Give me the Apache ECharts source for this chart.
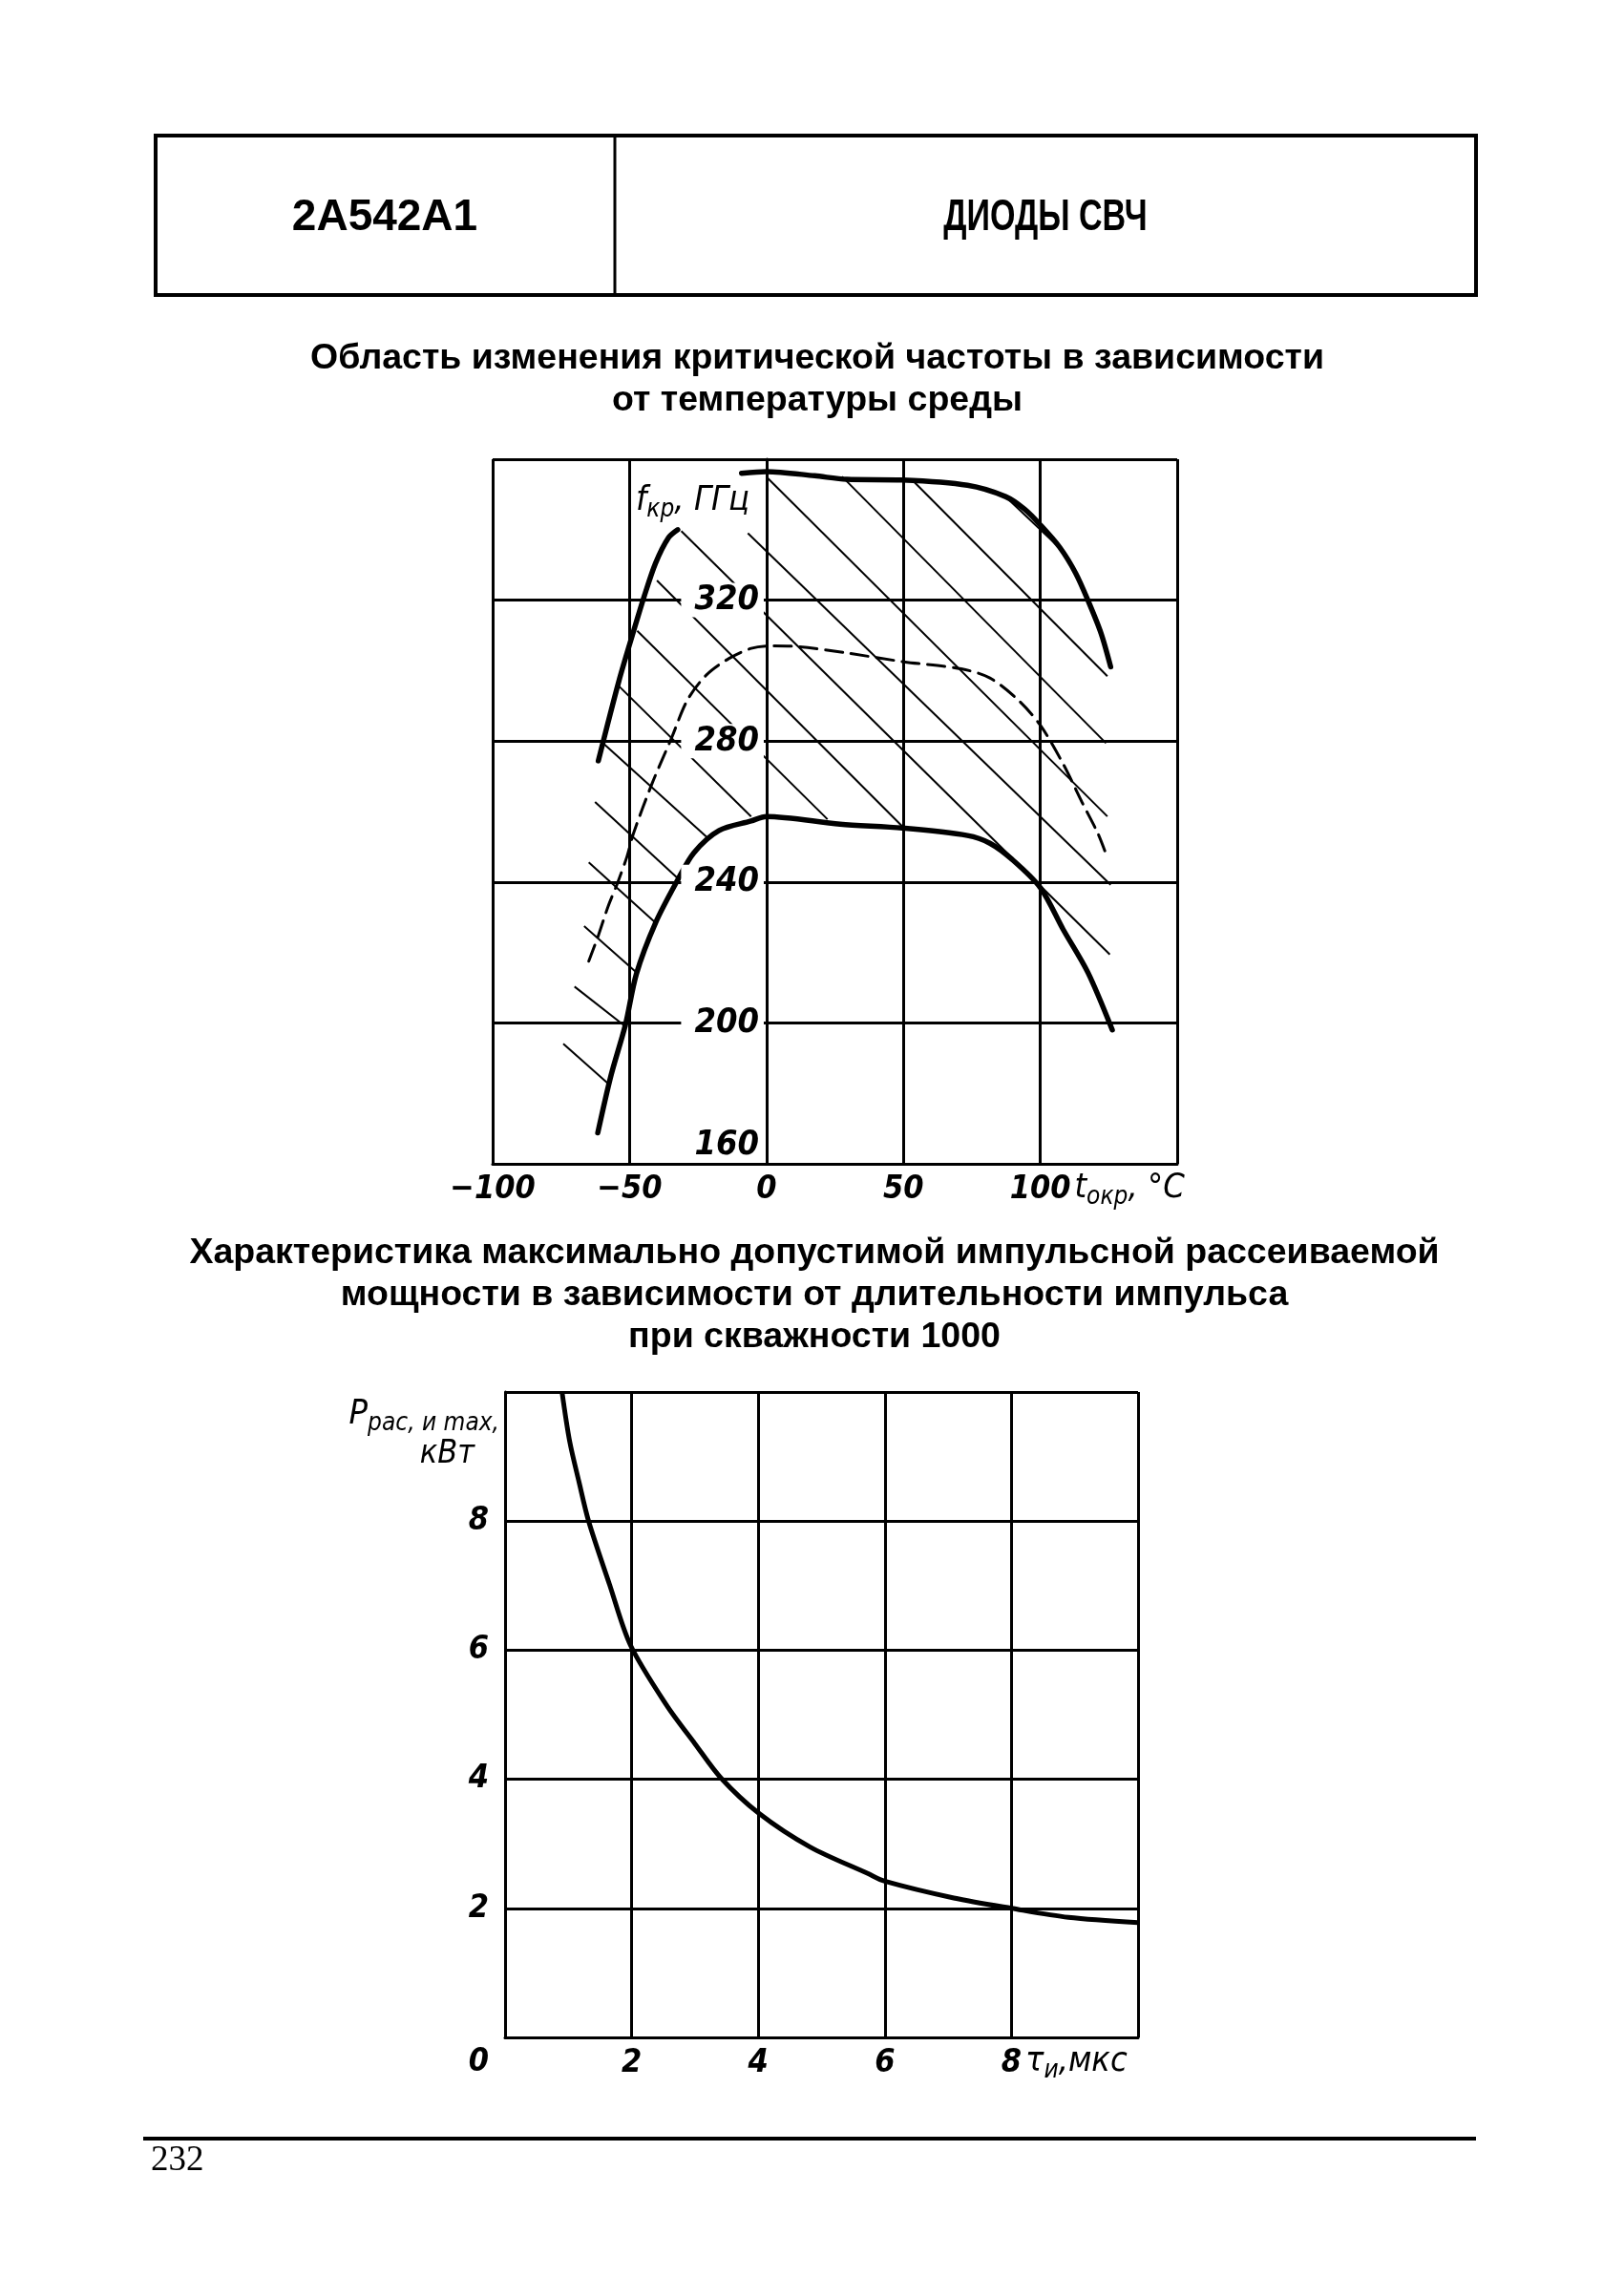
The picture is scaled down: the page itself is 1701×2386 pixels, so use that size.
<!DOCTYPE html>
<html>
<head>
<meta charset="utf-8">
<script src="https://cdn.jsdelivr.net/npm/echarts@6/dist/echarts.min.js"></script>
<style>
html,body{margin:0;padding:0;background:#fff;}
#c{width:1701px;height:2386px;}
</style>
</head>
<body>
<div id="c"></div>
<script>
// ---------- Chart 1: critical frequency vs ambient temperature ----------
const tempMin = -100, tempMax = 150, tempStep = 50;      // t_окр, °C
const freqMin = 160, freqMax = 360, freqStep = 40;       // f_кр, ГГц

// upper boundary (thick)
const upperLimit = [[-9.1,356.0],[0,356.5],[17.6,355.3],[29.3,354.3],[49.6,354.1],[73.4,352.6],
  [87.3,349.4],[94.3,345.8],[100.1,341.3],[107.1,335.0],[112.9,327.7],[117.6,319.6],[122.2,310.6],[125.7,301.1]];
// upper-left boundary (thick)
const upperLeftLimit = [[-61.4,274.4],[-53.9,297.0],[-48.6,311.0],[-44.6,321.2],[-40.5,330.5],[-35.8,337.7],[-32.4,340.0]];
// lower boundary (thick)
const lowerLimit = [[-61.6,168.8],[-56.8,185.0],[-51.5,199.5],[-47.5,213.9],[-40.5,228.4],[-32.4,240.6],
  [-26.5,248.3],[-17.3,254.6],[-5.6,257.3],[0,258.6],[26.9,256.4],[49.6,255.3],[73.4,253.2],[81.6,251.0],
  [89.7,246.4],[100.1,238.3],[108.3,226.6],[117.4,214.3],[126.3,198.0]];
// typical curve (dashed)
const typicalFreq = [[-64.9,217.5],[-61.4,224.8],[-57.9,232.9],[-54.4,239.7],[-50.9,247.3],[-48.6,253.7],
  [-41.7,268.1],[-34.7,280.8],[-28.9,291.6],[-21.9,298.8],[-13.8,303.4],[-5.6,306.3],[1.3,307.0],[11.8,306.8],
  [29.3,305.0],[50.2,302.5],[71.1,300.5],[81.6,297.9],[92.0,291.6],[100.1,284.4],[108.3,273.6],[115.2,262.7],
  [121.1,253.7],[124.5,246.9]];
// hatching of the region (segment end points)
const hatchLines = [
  [[86.5,350.0],[107.5,334.5]],
  [[54.0,353.5],[124.5,298.4]],
  [[27.6,355.1],[124.0,279.4]],
  [[0,355.0],[124.5,258.6]],
  [[-6.8,339.0],[125.7,239.2]],
  [[-31.1,339.6],[125.4,219.4]],
  [[-40.0,325.6],[49.6,255.8]],
  [[-47.2,311.3],[22.3,257.8]],
  [[-53.9,295.6],[-5.6,258.6]],
  [[-60.5,280.0],[-21.9,252.8]],
  [[-62.6,262.7],[-31.8,240.6]],
  [[-64.9,245.6],[-40.5,228.4]],
  [[-66.6,227.5],[-46.9,213.9]],
  [[-70.1,210.3],[-50.9,198.6]],
  [[-74.2,194.1],[-57.9,182.8]]
];

// ---------- Chart 2: max pulse power vs pulse width ----------
const widthMin = 0, widthMax = 10, widthStep = 2;        // τ_и, мкс
const powerMin = 0, powerMax = 10, powerStep = 2;        // P, кВт
const pulseWidth = [0.9,1.02,1.17,1.32,1.65,1.98,2.55,3.0,3.41,4.0,4.82,5.73,6.0,7.09,8.0,8.9,10];
const pulsePower = [10,9.24,8.6,8.0,7.02,6.08,5.15,4.55,4.02,3.48,2.95,2.54,2.42,2.16,2.0,1.86,1.78];

// ---------- texts ----------
const headerLeft = '2А542А1';
const headerRight = 'ДИОДЫ СВЧ';
const title1 = 'Область изменения критической частоты в зависимости\nот температуры среды';
const title2 = 'Характеристика максимально допустимой импульсной рассеиваемой\nмощности в зависимости от длительности импульса\nпри скважности 1000';
const pageNumber = '232';

const NARROW = "'Liberation Sans Narrow','DejaVu Sans Condensed','Liberation Sans',sans-serif";
const SANS = "'Liberation Sans',Arial,sans-serif";
const BLACK = '#000';

const chart = echarts.init(document.getElementById('c'), null, {renderer:'canvas', width:1701, height:2386});

function lbl(size, bold){ return {color:BLACK, fontSize:size, fontStyle:'italic', fontWeight: bold ? 'bold' : 'normal', fontFamily:NARROW}; }
const richBase = {
  t: Object.assign(lbl(36), {lineHeight:44}),
  s: Object.assign(lbl(26), {lineHeight:26, verticalAlign:'bottom'}),
  k: Object.assign(lbl(34), {lineHeight:38, padding:[0,26,0,0]})
};

function curve(data, width, dashed){
  return {type:'line', xAxisIndex:0, yAxisIndex:0, data:data, symbol:'none', smooth:0.3,
    silent:true, z:3,
    lineStyle:{color:BLACK, width:width, type: dashed ? [18,9] : 'solid', cap:'round'}};
}

const series = [];
hatchLines.forEach(function(seg){
  series.push({type:'line', xAxisIndex:0, yAxisIndex:0, data:seg, symbol:'none', silent:true, z:2,
    lineStyle:{color:BLACK, width:2}});
});
series.push(curve(upperLimit, 5.5, false));
series.push(curve(upperLeftLimit, 5.5, false));
series.push(curve(lowerLimit, 5.5, false));
series.push(curve(typicalFreq, 3, true));
series.push({type:'line', xAxisIndex:1, yAxisIndex:1, symbol:'none', smooth:0.3, silent:true,
  data: pulseWidth.map(function(x,i){ return [x, pulsePower[i]]; }),
  lineStyle:{color:BLACK, width:5}});

const gridLine = {show:true, lineStyle:{color:BLACK, width:3}};

const option = {
  backgroundColor:'#fff',
  animation:false,
  grid:[
    {left:516, top:481, width:717, height:738},
    {left:529, top:1458, width:663, height:676}
  ],
  xAxis:[
    {gridIndex:0, type:'value', min:tempMin, max:tempMax, interval:tempStep, z:6,
     axisLine:{show:true, onZero:false, lineStyle:{color:BLACK, width:3}},
     axisTick:{show:false}, splitLine:gridLine,
     axisLabel:Object.assign(lbl(34, true), {margin:10, showMaxLabel:false,
       formatter:function(v){ return v < 0 ? '\u2212' + (-v) : String(v); }}),
     name:'{t|t}{s|окр}{t|, °C}', nameLocation:'end', nameGap:0,
     nameTextStyle:{align:'right', verticalAlign:'top', padding:[4,0,0,0], rich:richBase}},
    {gridIndex:1, type:'value', min:widthMin, max:widthMax, interval:widthStep, z:6,
     axisLine:{show:true, onZero:false, lineStyle:{color:BLACK, width:3}},
     axisTick:{show:false}, splitLine:gridLine,
     axisLabel:Object.assign(lbl(34, true), {margin:10, showMinLabel:false, showMaxLabel:false}),
     name:'{t|τ}{s|и}{t|,мкс}', nameLocation:'end', nameGap:0,
     nameTextStyle:{align:'right', verticalAlign:'top', padding:[4,12,0,0], rich:richBase}}
  ],
  yAxis:[
    {gridIndex:0, type:'value', min:freqMin, max:freqMax, interval:freqStep, z:5,
     position:'left', offset:-287,
     axisLine:{show:true, onZero:false, lineStyle:{color:BLACK, width:3}},
     axisTick:{show:false}, splitLine:gridLine,
     axisLabel:Object.assign(lbl(36, true), {margin:3, showMaxLabel:false, backgroundColor:'#fff', padding:[0,5,0,14],
       formatter:function(v){ return v === freqMin ? '{lo|' + v + '}' : String(v); },
       rich:{lo:Object.assign(lbl(36, true), {padding:[0,0,38,0]})}}),
     name:'{t|f}{s|кр}{t|, ГГц}', nameLocation:'end', nameGap:-44,
     nameTextStyle:{align:'right', verticalAlign:'middle', padding:[0,18,0,0], rich:richBase}},
    {gridIndex:1, type:'value', min:powerMin, max:powerMax, interval:powerStep, z:5,
     axisLine:{show:true, onZero:false, lineStyle:{color:BLACK, width:3}},
     axisTick:{show:false}, splitLine:gridLine,
     axisLabel:Object.assign(lbl(34, true), {margin:17, showMaxLabel:false,
       formatter:function(v){ return v === 0 ? '{z|0}' : String(v); },
       rich:{z:Object.assign(lbl(34, true), {padding:[52,0,0,0]})}}),
     name:'{t|P}{s|рас, и max,}\n{k|кВт}', nameLocation:'end', nameGap:-2,
     nameTextStyle:{align:'right', verticalAlign:'top', padding:[0,6,0,0], rich:richBase}}
  ],
  series:series,
  graphic:[
    {type:'rect', shape:{x:163, y:142, width:1383, height:167}, style:{fill:'none', stroke:BLACK, lineWidth:4}},
    {type:'line', shape:{x1:644, y1:142, x2:644, y2:309}, style:{stroke:BLACK, lineWidth:3}},
    {type:'text', x:403, y:228, style:{text:headerLeft, font:'bold 46px ' + SANS, fill:BLACK, align:'center', verticalAlign:'middle'}},
    {type:'text', x:1095, y:228, scaleX:0.74, style:{text:headerRight, font:'bold 46px ' + SANS, fill:BLACK, align:'center', verticalAlign:'middle'}},
    {type:'text', x:856, y:354, style:{text:title1, font:'bold 37.5px ' + SANS, lineHeight:44, fill:BLACK, align:'center', verticalAlign:'top'}},
    {type:'text', x:853, y:1291, style:{text:title2, font:'bold 37.5px ' + SANS, lineHeight:44, fill:BLACK, align:'center', verticalAlign:'top'}},
    {type:'line', shape:{x1:150, y1:2240, x2:1546, y2:2240}, style:{stroke:BLACK, lineWidth:4}},
    {type:'text', x:158, y:2245, style:{text:pageNumber, font:"37px 'Liberation Serif','Times New Roman',serif", fill:BLACK, align:'left', verticalAlign:'top'}}
  ]
};
chart.setOption(option);
</script>
</body>
</html>
